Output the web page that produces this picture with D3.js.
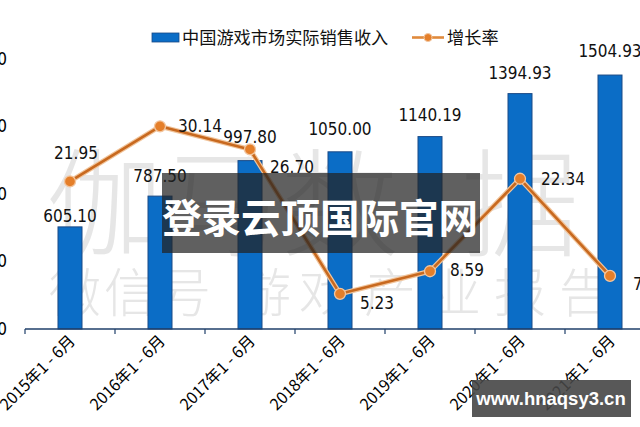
<!DOCTYPE html>
<html><head><meta charset="utf-8">
<script src="https://cdn.jsdelivr.net/npm/d3@7/dist/d3.min.js"></script>
<style>
html,body{margin:0;padding:0;background:#fff;overflow:hidden;}
svg{display:block;}
</style></head>
<body>
<svg id="chart" width="640" height="427"></svg>
<script>
// ---- data ----
const categories = ["2015年1 - 6月","2016年1 - 6月","2017年1 - 6月","2018年1 - 6月","2019年1 - 6月","2020年1 - 6月","2021年1 - 6月"];
const revenue = [605.10, 787.50, 997.80, 1050.00, 1140.19, 1394.93, 1504.93];
const growth = [21.95, 30.14, 26.70, 5.23, 8.59, 22.34, 7.89];
const leftTicks = [0, 400, 800, 1200, 1600];
const rightTicks = [0, 10, 20, 30, 40];
const legendLabels = ["中国游戏市场实际销售收入", "增长率"];
const watermarkBig = ["伽","马","数","据"];
const watermarkSmall = ["微","信","号","游","戏","产","业","报","告"];

// ---- layout ----
const W = 640, H = 427;
const baseY = 329, topY = 59;
const svg = d3.select("#chart");
const numFont = "'Liberation Sans Narrow','DejaVu Sans Condensed','Liberation Sans',sans-serif";
const cjkFont = "'Noto Sans CJK SC','Noto Sans',sans-serif";
const mixFont = "'Liberation Sans Narrow','Noto Sans CJK SC',sans-serif";

const x = d3.scaleBand().domain(categories).range([25, 25 + 90 * categories.length]).paddingInner(0).paddingOuter(0);
const yL = d3.scaleLinear().domain([0, 1600]).range([baseY, topY]);
const yR = d3.scaleLinear().domain([0, 40]).range([baseY, topY + 1]);

// watermark
const wm = svg.append("g").attr("fill", "#d6d6d6").attr("opacity", 0.6).attr("font-family", cjkFont);
const bigX = [105, 220, 340, 520];
wm.selectAll("text.big").data(watermarkBig).join("text")
  .attr("class", "big")
  .attr("x", (d, i) => bigX[i]).attr("y", 248)
  .attr("text-anchor", "middle").attr("font-size", 118).attr("font-weight", 300)
  .text(d => d);
const smallX = [75, 130, 185, 265, 325, 390, 455, 520, 585];
wm.selectAll("text.small").data(watermarkSmall).join("text")
  .attr("class", "small")
  .attr("x", (d, i) => smallX[i]).attr("y", 312)
  .attr("text-anchor", "middle").attr("font-size", 52).attr("font-weight", 300)
  .text(d => d);

// bars
const barW = 24;
svg.append("g").selectAll("rect").data(revenue).join("rect")
  .attr("x", (d, i) => x(categories[i]) + x.bandwidth() / 2 - barW / 2)
  .attr("y", d => yL(d))
  .attr("width", barW)
  .attr("height", d => baseY - yL(d))
  .attr("fill", "#0b6dc6").attr("stroke", "#1b4a86").attr("stroke-width", 1);

// x axis
const xAxis = d3.axisBottom(x).tickSize(5).tickFormat("");
const gx = svg.append("g").attr("transform", `translate(0,${baseY})`).call(xAxis);
gx.select(".domain").attr("stroke", "#1f3f6a").attr("stroke-width", 1.3).attr("d", `M25,0H${W + 10}`);
gx.selectAll(".tick").remove();
const boundaries = categories.map(c => x(c));
gx.selectAll("line.b").data(boundaries).join("line")
  .attr("class", "b").attr("x1", d => d).attr("x2", d => d).attr("y1", 0).attr("y2", 5)
  .attr("stroke", "#1f3f6a").attr("stroke-width", 1.2);

// x labels rotated
svg.append("g").selectAll("text").data(categories).join("text")
  .attr("transform", d => `translate(${x(d) + x.bandwidth() / 2 + 6},${baseY + 13}) rotate(-45)`)
  .attr("text-anchor", "end").attr("font-size", 16).attr("font-family", mixFont)
  .attr("fill", "#000").text(d => d);

// left axis labels (mostly cropped)
const gl = svg.append("g").attr("transform", "translate(7,0)")
  .call(d3.axisLeft(yL).tickValues(leftTicks).tickSize(0).tickPadding(0));
gl.select(".domain").remove();
gl.selectAll("text").attr("font-size", 17).attr("font-family", numFont).attr("fill", "#000");

// right axis labels (off canvas)
const gr = svg.append("g").attr("transform", `translate(${W + 8},0)`)
  .call(d3.axisRight(yR).tickValues(rightTicks).tickSize(0));
gr.select(".domain").remove();

// bar labels
const barLabelDy = [-5, -14, -18, -17, -16, -15, -18];
svg.append("g").selectAll("text").data(revenue).join("text")
  .attr("x", (d, i) => x(categories[i]) + x.bandwidth() / 2)
  .attr("y", (d, i) => yL(d) + barLabelDy[i])
  .attr("text-anchor", "middle").attr("font-size", 17).attr("font-family", numFont)
  .attr("fill", "#111").text(d => d.toFixed(2));

// growth line
const line = d3.line().x((d, i) => x(categories[i]) + x.bandwidth() / 2).y(d => yR(d));
svg.append("path").datum(growth).attr("d", line).attr("fill", "none")
  .attr("stroke", "#f1c59c").attr("stroke-width", 5).attr("stroke-linejoin", "round");
svg.append("path").datum(growth).attr("d", line).attr("fill", "none")
  .attr("stroke", "#c8691f").attr("stroke-width", 2.6).attr("stroke-linejoin", "round");
svg.append("g").selectAll("circle").data(growth).join("circle")
  .attr("cx", (d, i) => x(categories[i]) + x.bandwidth() / 2)
  .attr("cy", d => yR(d)).attr("r", 5.5)
  .attr("fill", "#e57f2a").attr("stroke", "#f2c6a0").attr("stroke-width", 1.3);

// growth labels
const gLabelDx = [6, 40, 42, 37, 37, 43, 40];
const gLabelDy = [-22, 6, 24, 15, 5, 6, 14];
svg.append("g").selectAll("text").data(growth).join("text")
  .attr("x", (d, i) => x(categories[i]) + x.bandwidth() / 2 + gLabelDx[i])
  .attr("y", (d, i) => yR(d) + gLabelDy[i])
  .attr("text-anchor", "middle").attr("font-size", 17).attr("font-family", numFont)
  .attr("fill", "#111").text(d => d.toFixed(2));

// legend
const lg = svg.append("g");
lg.append("rect").attr("x", 152).attr("y", 33).attr("width", 27).attr("height", 9)
  .attr("fill", "#0b6dc6").attr("stroke", "#1b4a86").attr("stroke-width", 0.8);
lg.append("text").attr("x", 182).attr("y", 44).attr("font-size", 17.2).attr("font-family", cjkFont)
  .attr("fill", "#111").text(legendLabels[0]);
lg.append("line").attr("x1", 412).attr("x2", 444).attr("y1", 37.5).attr("y2", 37.5)
  .attr("stroke", "#e08a3c").attr("stroke-width", 2.6);
lg.append("circle").attr("cx", 428).attr("cy", 37.5).attr("r", 4).attr("fill", "#e57f2a").attr("stroke", "#f2c6a0");
lg.append("text").attr("x", 447).attr("y", 44).attr("font-size", 17.2).attr("font-family", cjkFont)
  .attr("fill", "#111").text(legendLabels[1]);

// overlay banner
svg.append("rect").attr("x", 162).attr("y", 173).attr("width", 318).attr("height", 80)
  .attr("fill", "rgba(35,35,35,0.72)");
svg.append("text").attr("x", 320).attr("y", 233).attr("text-anchor", "middle")
  .attr("font-size", 39.5).attr("font-weight", 700).attr("font-family", cjkFont)
  .attr("fill", "#fff").text("登录云顶国际官网");

// url box
svg.append("rect").attr("x", 472).attr("y", 380).attr("width", 159).attr("height", 37)
  .attr("fill", "rgba(70,70,70,0.9)");
svg.append("text").attr("x", 551).attr("y", 405).attr("text-anchor", "middle")
  .attr("font-size", 18.5).attr("font-weight", 700).attr("font-family", "'Liberation Sans','DejaVu Sans',sans-serif")
  .attr("fill", "#fff").text("www.hnaqsy3.cn");
</script>
</body></html>
